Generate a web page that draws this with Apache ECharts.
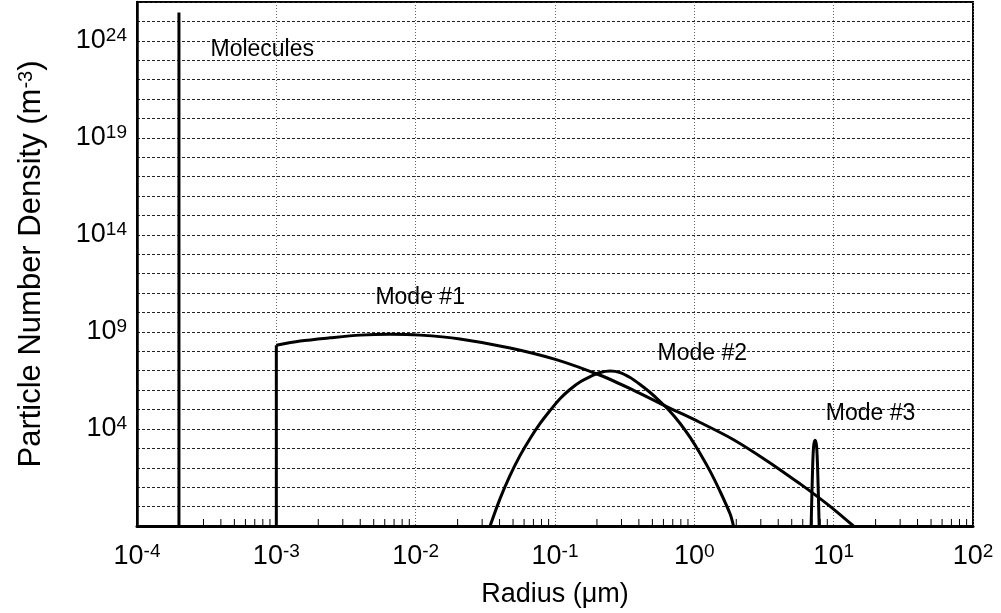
<!DOCTYPE html>
<html><head><meta charset="utf-8">
<script src="https://cdn.jsdelivr.net/npm/echarts@6/dist/echarts.min.js"></script>
<style>html,body{margin:0;padding:0;background:#fff}#c{width:1001px;height:613px}</style>
</head><body><div id="c"></div>
<script>
// ---- data (radius in µm, number density in m^-3) ----
const moleculesR = [2.0e-4, 2.0e-4];
const moleculesN = [0.1, 2.9e25];

const mode1R = [1.0e-3, 1.0e-3, 1.48e-3, 2.43e-3, 3.99e-3, 6.55e-3, 1.075e-2, 2.08e-2, 0.0476, 0.102, 0.211, 0.364, 0.638, 1.10, 1.90, 3.33, 5.75, 7.61, 9.92, 13.87];
const mode1N = [0.1, 2.05e8, 3.37e8, 4.97e8, 6.84e8, 7.53e8, 6.84e8, 4.36e8, 1.50e8, 3.76e7, 5.85e6, 1.01e6, 1.39e5, 2.16e4, 2.88e3, 226, 14.8, 3.37, 0.767, 0.1];

const mode2R = [0.0342, 0.0404, 0.0476, 0.0562, 0.0663, 0.0782, 0.0922, 0.109, 0.128, 0.151, 0.179, 0.211, 0.249, 0.293, 0.346, 0.408, 0.482, 0.568, 0.670, 0.791, 0.933, 1.10, 1.30, 1.53, 1.81, 1.91];
const mode2N = [0.1, 2.66, 40.6, 434, 3.24e3, 1.92e4, 8.94e4, 3.71e5, 1.08e6, 2.62e6, 5.02e6, 8.06e6, 9.63e6, 8.06e6, 4.46e6, 1.95e6, 7.55e5, 2.60e5, 7.94e4, 1.92e4, 3.66e3, 550, 65.2, 6.10, 0.40, 0.1];

const mode3R = [6.89, 7.06, 7.18, 7.36, 7.54, 7.67, 7.87];
const mode3N = [0.1, 93, 1.26e3, 2.6e3, 1.26e3, 93, 0.1];

const annotNames = ['Molecules', 'Mode #1', 'Mode #2', 'Mode #3'];
const annotR = [3.34e-4, 5.1e-3, 0.54, 8.7];
const annotN = [3.5e23, 6.0e10, 0.8e8, 6.5e4];

const xTickExps = [-4, -3, -2, -1, 0, 1, 2];
const yLabelExps = [4, 9, 14, 19, 24];
const X_MIN = 1e-4, X_MAX = 1e2, Y_MIN = 0.1, Y_MAX = 1e26;
const minorFactors = [2, 3, 4, 5, 6, 7, 8, 9];

// ---- build ----
const zip = (a, b) => a.map((v, i) => [v, b[i]]);
const minorTicks = [];
xTickExps.slice(0, -1).forEach(e => minorFactors.forEach(f => minorTicks.push([f * Math.pow(10, e), Y_MIN])));

const FONT = "'Liberation Sans', Arial, sans-serif";
const lineSeries = (name, data, smooth) => ({
  name, type: 'line', data, showSymbol: false, smooth: smooth || false,
  lineStyle: { color: '#000', width: 3 }, z: 4, silent: true, animation: false
});
const mode1 = zip(mode1R, mode1N);

const chart = echarts.init(document.getElementById('c'), null, { renderer: 'canvas' });
const richLabel = {
  b: { fontSize: 27, fontFamily: FONT, color: '#000', lineHeight: 30 },
  s: { fontSize: 19, fontFamily: FONT, color: '#000', verticalAlign: 'top', lineHeight: 18 }
};
chart.setOption({
  animation: false,
  backgroundColor: '#fff',
  grid: { left: 137, right: 28, top: 2, bottom: 86, show: true, borderColor: '#000', borderWidth: 2, backgroundColor: 'transparent' },
  xAxis: {
    type: 'log', logBase: 10, min: X_MIN, max: X_MAX, interval: 1,
    name: 'Radius (μm)', nameLocation: 'middle', nameGap: 55,
    nameTextStyle: { fontFamily: FONT, fontSize: 27, color: '#000' },
    axisLine: { show: true, lineStyle: { color: '#000', width: 3 } },
    axisTick: { show: false },
    axisLabel: {
      margin: 16, fontFamily: FONT, color: '#000',
      formatter: v => '{b|10}{s|' + Math.round(Math.log10(v)) + '}',
      rich: richLabel
    },
    splitLine: { show: true, lineStyle: { color: '#666', width: 1, type: [1, 2] } }
  },
  yAxis: {
    type: 'log', logBase: 10, min: Y_MIN, max: Y_MAX, interval: 1,
    name: 'Particle Number Density (m{s|-3})', nameLocation: 'middle', nameGap: 90, nameRotate: 90,
    nameTextStyle: { fontFamily: FONT, fontSize: 31, color: '#000',
      rich: { s: { fontSize: 20, fontFamily: FONT, color: '#000', verticalAlign: 'top', lineHeight: 20 } } },
    axisLine: { show: true, lineStyle: { color: '#000', width: 2.5 } },
    axisTick: { show: false },
    axisLabel: {
      margin: 10, fontFamily: FONT, color: '#000',
      formatter: v => { const e = Math.round(Math.log10(v)); return yLabelExps.includes(e) ? '{b|10}{s|' + e + '}' : ''; },
      rich: richLabel
    },
    splitLine: { show: true, lineStyle: { color: '#222', width: 1, type: [3, 2] } }
  },
  series: [
    lineSeries('Molecules', zip(moleculesR, moleculesN)),
    lineSeries('Mode #1', mode1.slice(0, 2)),
    lineSeries('Mode #1', mode1.slice(1), 0.3),
    lineSeries('Mode #2', zip(mode2R, mode2N), 0.3),
    lineSeries('Mode #3', zip(mode3R, mode3N), 0.3),
    {
      type: 'custom', silent: true, z: 5, data: minorTicks, encode: { x: 0, y: 1 },
      renderItem: (params, api) => {
        const p = api.coord([api.value(0), api.value(1)]);
        return { type: 'line', shape: { x1: p[0], y1: p[1], x2: p[0], y2: p[1] - 7 }, style: { stroke: '#000', lineWidth: 1 } };
      }
    },
    {
      type: 'scatter', silent: true, symbolSize: 1, itemStyle: { color: '#fff', opacity: 1 },
      data: annotNames.map((n, i) => ({ name: n, value: [annotR[i], annotN[i]] })),
      label: { show: true, position: 'right', distance: 0, formatter: '{b}', fontFamily: FONT, fontSize: 23,
        color: '#000', textBorderWidth: 0, textBorderColor: 'transparent', opacity: 1 },
      z: 10, zlevel: 1
    }
  ]
});
</script></body></html>
